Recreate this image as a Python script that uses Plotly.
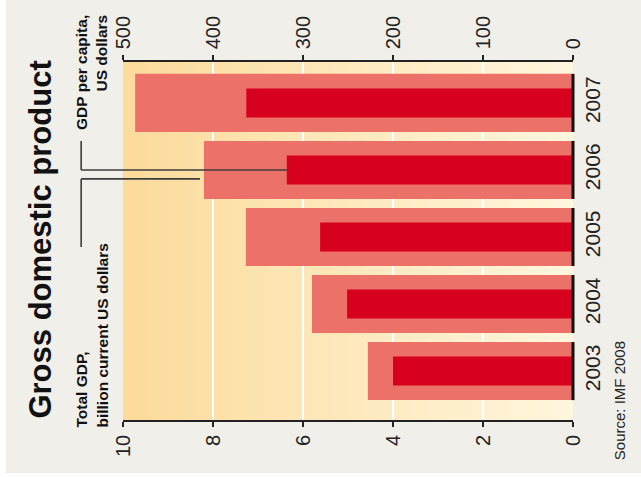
import plotly.graph_objects as go

# Data
years = [2003, 2004, 2005, 2006, 2007]
total_gdp = [4.56, 5.8, 7.27, 8.2, 9.73]        # billion current US dollars
gdp_per_capita = [200, 251, 281, 318, 363]      # US dollars
gdp_ticks = [0, 2, 4, 6, 8, 10]
capita_ticks = [0, 100, 200, 300, 400, 500]

GDP_MAX = 10
CAPITA_MAX = 500
Y_RANGE = [2002.27, 2007.61]

FONT = "Liberation Sans, Arial, sans-serif"
INK = "#222222"

fig = go.Figure()

fig.add_trace(go.Bar(
    y=years, x=total_gdp, orientation="h", width=0.866,
    marker=dict(color="#EC7169", line_width=0),
    xaxis="x", yaxis="y", name="Total GDP", hoverinfo="x+y",
))
fig.add_trace(go.Bar(
    y=years, x=gdp_per_capita, orientation="h", width=0.433,
    marker=dict(color="#D8001F", line_width=0),
    xaxis="x2", yaxis="y", name="GDP per capita", hoverinfo="x+y",
))

shapes = []

# Outer panel
shapes.append(dict(type="rect", xref="paper", yref="paper",
                   x0=-0.26, x1=1.2, y0=-0.148, y1=1.25,
                   fillcolor="#F1EFE9", line_width=0, layer="below"))

# Warm gradient behind the bars, darker on the large-value side
c_left = (252, 219, 155)
c_right = (255, 246, 222)
n_strips = 90
step = GDP_MAX / n_strips
for i in range(n_strips):
    t = i / (n_strips - 1)
    r, g, b = (round(a + (c - a) * t) for a, c in zip(c_left, c_right))
    x0 = GDP_MAX - i * step
    shapes.append(dict(type="rect", xref="x", yref="paper",
                       x0=x0, x1=max(x0 - step * 1.2, 0), y0=0, y1=1,
                       fillcolor=f"rgb({r},{g},{b})", line_width=0, layer="below"))

# Black baseline tick at the zero end of each bar
for yr in years:
    shapes.append(dict(type="line", xref="paper", yref="y",
                       x0=1, x1=1, y0=yr - 0.433, y1=yr + 0.433,
                       line=dict(color="#111111", width=3), layer="above"))

# Leader lines from the axis captions to the 2006 bars
lead_x = -0.093
pointer_year = years[3]
capita_end = (CAPITA_MAX - gdp_per_capita[3]) / CAPITA_MAX
gdp_end = (GDP_MAX - total_gdp[3]) / GDP_MAX - 0.009
line_style = dict(color="#3c3c3c", width=1.6)
shapes += [
    dict(type="line", xref="paper", yref="y", x0=lead_x, x1=lead_x,
         y0=pointer_year, y1=pointer_year + 0.43, line=line_style),
    dict(type="line", xref="paper", yref="y", x0=lead_x, x1=capita_end,
         y0=pointer_year, y1=pointer_year, line=line_style),
    dict(type="line", xref="paper", yref="y", x0=lead_x, x1=lead_x,
         y0=pointer_year - 0.134, y1=2004.85, line=line_style),
    dict(type="line", xref="paper", yref="y", x0=lead_x, x1=gdp_end,
         y0=pointer_year - 0.134, y1=pointer_year - 0.134, line=line_style),
]

annotations = [
    dict(text="<b>Gross domestic product</b>", textangle=-90,
         xref="paper", yref="paper", x=-0.183, y=0.503,
         xanchor="center", yanchor="middle", showarrow=False,
         font=dict(family=FONT, size=31, color="#111111")),
    dict(text="<b>Total GDP,<br>billion current US dollars</b>", textangle=-90,
         xref="paper", yref="paper", x=-0.07, y=-0.028,
         xanchor="center", yanchor="bottom", align="left", showarrow=False,
         font=dict(family=FONT, size=15.5, color="#111111")),
    dict(text="<b>GDP per capita,<br>US dollars</b>", textangle=-90,
         xref="paper", yref="paper", x=-0.07, y=1.137,
         xanchor="center", yanchor="top", align="right", showarrow=False,
         font=dict(family=FONT, size=15.5, color="#111111")),
    dict(text="Source: IMF 2008", textangle=-90,
         xref="paper", yref="paper", x=1.104, y=-0.117,
         xanchor="center", yanchor="bottom", showarrow=False,
         font=dict(family=FONT, size=15, color="#222222")),
]

axis_common = dict(
    tickangle=-90, ticks="outside", ticklen=5, tickwidth=1.5, tickcolor=INK,
    showline=True, linecolor=INK, linewidth=1.5, zeroline=False,
    tickfont=dict(family=FONT, size=20, color=INK), fixedrange=True,
)

fig.update_layout(
    width=641, height=477, autosize=False,
    margin=dict(l=123, r=68, t=62, b=57, pad=0),
    paper_bgcolor="white", plot_bgcolor="rgba(0,0,0,0)",
    barmode="overlay", showlegend=False,
    xaxis=dict(range=[GDP_MAX, 0], tickvals=gdp_ticks, side="bottom",
               showgrid=True, gridcolor="white", gridwidth=1.5,
               ticklabelstandoff=0, **axis_common),
    xaxis2=dict(range=[CAPITA_MAX, 0], tickvals=capita_ticks, side="top",
                overlaying="x", showgrid=False, ticklabelstandoff=2, **axis_common),
    yaxis=dict(range=Y_RANGE, tickvals=years, side="right", tickangle=-90,
               ticks="", showline=False, showgrid=False, zeroline=False,
               ticklabelstandoff=5, fixedrange=True,
               tickfont=dict(family=FONT, size=21, color=INK)),
    shapes=shapes, annotations=annotations,
)

fig.write_html("out.html")
